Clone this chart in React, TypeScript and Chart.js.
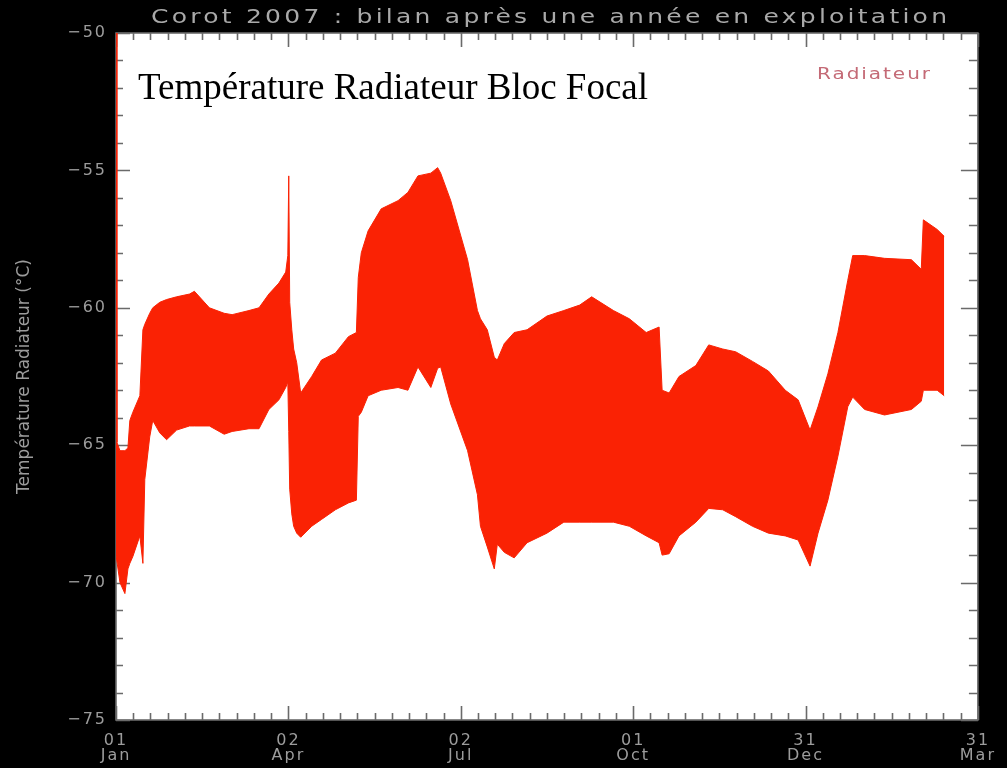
import React, { useEffect, useRef } from "react";
import { Chart, registerables } from "chart.js";

Chart.register(...registerables);

const chartTitle = "Corot 2007 : bilan après une année en exploitation";
const innerTitle = "Température Radiateur Bloc Focal";
const legendLabel = "Radiateur";
const yAxisTitle = "Température Radiateur (°C)";

// days since 01 Jan 2007
const xTickDays = [0, 91, 182, 273, 364, 455];
const xTickLabels = [
  ["01", "Jan"],
  ["02", "Apr"],
  ["02", "Jul"],
  ["01", "Oct"],
  ["31", "Dec"],
  ["31", "Mar"],
];
const xMinorPerMajor = 10;
const yTickValues = [-75, -70, -65, -60, -55, -50];
const yTickLabels = ["−75", "−70", "−65", "−60", "−55", "−50"];
const yMinorStep = 1;

const sampleDays = [
  0, 0.5, 2.1, 4.7, 6.3, 7.3, 8.9, 12.6, 14.2, 15.2, 17.8, 19.4, 23.1, 26.7, 32.0, 38.8, 41.4, 49.3,
  57.1, 61.3, 70.2, 75.5, 80.7, 86.0, 89.6, 90.7, 91.2, 91.7, 92.8, 93.8, 95.4, 97.5, 103.3, 108.5,
  115.8, 122.7, 126.9, 127.9, 129.5, 133.1, 140.0, 148.9, 154.1, 159.4, 166.2, 169.8, 171.4, 176.7,
  185.6, 190.8, 192.4, 196.0, 199.7, 201.3, 205.0, 210.2, 217.0, 227.5, 236.4, 244.8, 251.1, 262.6,
  271.0, 279.9, 286.7, 288.3, 292.0, 297.2, 306.1, 312.9, 320.3, 327.1, 336.0, 344.4, 353.3, 360.1,
  366.4, 370.6, 375.8, 381.1, 386.3, 388.9, 395.2, 405.7, 419.9, 425.1, 426.2, 433.5, 437.2,
];
const upperTemps = [
  -50.0, -64.9, -65.2, -65.2, -65.1, -64.1, -63.8, -63.2, -60.8, -60.6, -60.2, -60.0, -59.8, -59.7,
  -59.6, -59.5, -59.4, -60.0, -60.2, -60.25, -60.1, -60.0, -59.5, -59.1, -58.7, -58.1, -55.2, -59.8,
  -60.8, -61.5, -62.0, -63.1, -62.5, -61.9, -61.65, -61.05, -60.9, -58.9, -58.0, -57.2, -56.4, -56.1,
  -55.8, -55.2, -55.1, -54.9, -55.1, -56.1, -58.25, -60.1, -60.4, -60.8, -61.8, -61.9, -61.3, -60.9,
  -60.8, -60.3, -60.1, -59.9, -59.6, -60.1, -60.4, -60.9, -60.7, -63.0, -63.1, -62.5, -62.1, -61.35,
  -61.5, -61.6, -61.95, -62.3, -63.0, -63.35, -64.45, -63.6, -62.4, -60.9, -59.0, -58.1, -58.1, -58.2,
  -58.25, -58.6, -56.8, -57.15, -57.4,
];
const lowerTemps = [
  -69.0, -69.0, -70.0, -70.4, -69.5, -69.3, -69.05, -68.3, -69.3, -66.25, -64.7, -64.1, -64.55, -64.8,
  -64.45, -64.3, -64.3, -64.3, -64.6, -64.5, -64.4, -64.4, -63.7, -63.35, -62.9, -62.7, -64.5, -66.6,
  -67.5, -67.95, -68.2, -68.35, -67.95, -67.7, -67.35, -67.1, -67.0, -63.95, -63.8, -63.2, -63.0, -62.9,
  -63.0, -62.15, -62.9, -62.2, -62.15, -63.5, -65.2, -66.8, -67.95, -68.7, -69.5, -68.6, -68.9, -69.1,
  -68.55, -68.2, -67.8, -67.8, -67.8, -67.8, -67.95, -68.3, -68.55, -69.0, -68.95, -68.3, -67.8, -67.3,
  -67.35, -67.6, -67.95, -68.2, -68.3, -68.45, -69.4, -68.2, -67.0, -65.4, -63.6, -63.25, -63.7, -63.9,
  -63.7, -63.4, -63.0, -63.0, -63.2,
];

const RED = "rgb(250, 34, 4)";
const AXIS = "#6a6a6a";
const LABEL = "#9c9c9c";

function fitText(
  ctx: CanvasRenderingContext2D,
  text: string,
  x: number,
  y: number,
  target: number,
  font: string,
  color: string,
  hScale: number
) {
  ctx.save();
  ctx.font = font;
  (ctx as any).letterSpacing = "0px";
  const w = ctx.measureText(text).width;
  const s = Math.max(0, (target / hScale - w) / Math.max(1, text.length - 1));
  ctx.translate(x, y);
  ctx.scale(hScale, 1);
  (ctx as any).letterSpacing = s + "px";
  ctx.fillStyle = color;
  ctx.textAlign = "left";
  ctx.textBaseline = "alphabetic";
  ctx.fillText(text, 0, 0);
  ctx.restore();
}

const idlPlugin = {
  id: "idlFrame",
  beforeDraw(chart: any) {
    const { ctx, chartArea: a } = chart;
    ctx.save();
    ctx.fillStyle = "#000";
    ctx.fillRect(0, 0, chart.width, chart.height);
    ctx.fillStyle = "#fff";
    ctx.fillRect(a.left, a.top, a.right - a.left, a.bottom - a.top);
    ctx.restore();
    ctx.letterSpacing = "0px";
  },
  beforeDatasetsDraw(chart: any) {
    const { ctx, chartArea: a, scales } = chart;
    const xs = scales.x;
    const ys = scales.y;
    ctx.save();
    ctx.strokeStyle = AXIS;
    ctx.lineWidth = 1.6;
    ctx.strokeRect(a.left, a.top, a.right - a.left, a.bottom - a.top);
    ctx.beginPath();
    for (let i = 0; i < xTickDays.length - 1; i++) {
      const span = xTickDays[i + 1] - xTickDays[i];
      for (let k = 0; k <= xMinorPerMajor; k++) {
        const v = xTickDays[i] + (k * span) / xMinorPerMajor;
        const px = Math.round(xs.getPixelForValue(v)) + 0.5;
        const len = k === 0 || k === xMinorPerMajor ? 14 : 7;
        ctx.moveTo(px, a.bottom);
        ctx.lineTo(px, a.bottom - len);
        ctx.moveTo(px, a.top);
        ctx.lineTo(px, a.top + len);
      }
    }
    const yMin = yTickValues[0];
    const yMax = yTickValues[yTickValues.length - 1];
    for (let v = yMin; v <= yMax + 1e-6; v += yMinorStep) {
      const py = Math.round(ys.getPixelForValue(v)) + 0.5;
      const major = yTickValues.includes(v);
      ctx.moveTo(a.left, py);
      ctx.lineTo(a.left + (major ? 14 : 7), py);
      ctx.moveTo(a.right, py);
      ctx.lineTo(a.right - (major ? 17 : 9), py);
    }
    ctx.stroke();
    ctx.restore();
  },
  afterDatasetsDraw(chart: any) {
    chart.ctx.letterSpacing = "2px";
  },
  afterDraw(chart: any) {
    const { ctx, chartArea: a } = chart;
    ctx.letterSpacing = "0px";
    ctx.save();
    ctx.letterSpacing = "0px";
    ctx.font = '37px "Liberation Serif"';
    ctx.fillStyle = "#000";
    ctx.textAlign = "left";
    ctx.textBaseline = "alphabetic";
    ctx.fillText(innerTitle, a.left + 22, a.top + 66);
    fitText(ctx, chartTitle, 151, 23, 796, '20px "DejaVu Sans"', "#a9a9a9", 1.25);
    fitText(ctx, legendLabel, 817, 79, 113, '16px "DejaVu Sans"', "#c46a76", 1.25);
    ctx.restore();
    ctx.letterSpacing = "0px";
  },
};

export default function App() {
  const ref = useRef<HTMLCanvasElement | null>(null);
  useEffect(() => {
    if (!ref.current) return;
    const upper = sampleDays.map((d, i) => ({ x: d, y: upperTemps[i] }));
    const lower = sampleDays.map((d, i) => ({ x: d, y: lowerTemps[i] }));
    const chart = new Chart(ref.current, {
      type: "line",
      data: {
        datasets: [
          {
            label: legendLabel,
            data: upper,
            borderColor: RED,
            borderWidth: 1,
            pointRadius: 0,
            tension: 0,
            fill: false,
          },
          {
            label: legendLabel + " min",
            data: lower,
            borderColor: RED,
            backgroundColor: RED,
            borderWidth: 1,
            pointRadius: 0,
            tension: 0,
            fill: "-1",
          },
        ],
      },
      options: {
        animation: false,
        responsive: false,
        layout: { padding: { left: 0, right: 23, top: 33, bottom: 0 } },
        plugins: {
          legend: { display: false },
          title: { display: false },
          tooltip: { enabled: false },
        },
        scales: {
          x: {
            type: "linear",
            min: xTickDays[0],
            max: xTickDays[xTickDays.length - 1],
            afterBuildTicks: (s: any) => {
              s.ticks = xTickDays.map((v) => ({ value: v }));
            },
            afterFit: (s: any) => {
              s.height = 48;
            },
            grid: { display: false, drawTicks: false },
            border: { display: false },
            ticks: {
              autoSkip: false,
              maxRotation: 0,
              minRotation: 0,
              padding: 14,
              color: LABEL,
              z: 1,
              font: { family: "DejaVu Sans", size: 16, lineHeight: 0.9 },
              callback: (_v: any, i: number) => xTickLabels[i],
            },
          },
          y: {
            type: "linear",
            min: yTickValues[0],
            max: yTickValues[yTickValues.length - 1],
            afterBuildTicks: (s: any) => {
              s.ticks = yTickValues.map((v) => ({ value: v }));
            },
            afterFit: (s: any) => {
              s.width = 116;
            },
            grid: { display: false, drawTicks: false },
            border: { display: false },
            ticks: {
              padding: 9,
              color: LABEL,
              z: 1,
              font: { family: "DejaVu Sans", size: 16 },
              callback: (_v: any, i: number) => yTickLabels[i],
            },
            title: {
              display: true,
              text: yAxisTitle,
              color: LABEL,
              font: { family: "DejaVu Sans", size: 17 },
              padding: { top: 14, bottom: 0 },
            },
          },
        },
      },
      plugins: [idlPlugin],
    } as any);
    return () => chart.destroy();
  }, []);
  return (
    <div style={{ position: "fixed", left: 0, top: 0, width: 1007, height: 768, background: "#000" }}>
      <canvas ref={ref} width={1007} height={768} style={{ display: "block" }} />
    </div>
  );
}
